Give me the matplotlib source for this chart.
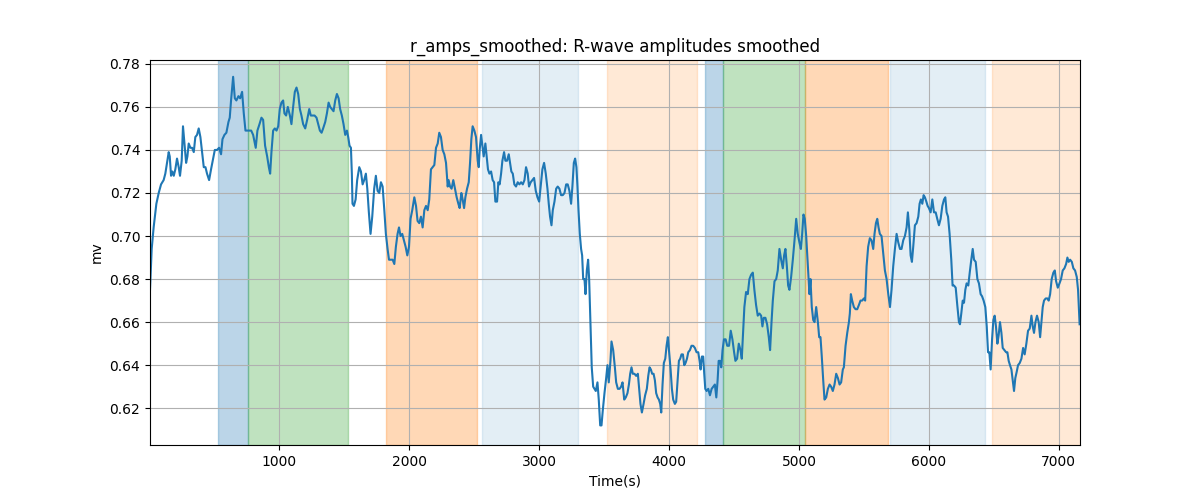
import matplotlib
matplotlib.use("Agg")
import matplotlib.pyplot as plt

time_s = [
    3, 16, 31, 52, 70, 88, 108, 121, 134, 147, 155, 165, 175, 186, 198, 211, 224, 234, 247, 257,
    268, 281, 291, 301, 314, 327, 340, 352, 365, 378, 391, 404, 417, 430, 442, 458, 473, 486, 502, 519,
    535, 550, 561, 576, 591, 607, 617, 627, 643, 656, 668, 684, 697, 712, 725, 738, 751, 764, 782, 797,
    807, 817, 830, 846, 861,
    874, 889, 905, 918, 928, 938, 951, 964, 977, 990, 1002, 1015, 1028, 1038, 1051, 1064, 1080, 1092,
    1105, 1118, 1131, 1144, 1157, 1169, 1182, 1198, 1213, 1229, 1241, 1254, 1270, 1285, 1298, 1311,
    1324, 1336, 1352, 1365, 1378, 1390, 1403, 1416, 1429, 1442, 1455, 1467, 1480, 1493, 1506, 1519,
    1529, 1539, 1550, 1557, 1562, 1573, 1586, 1598, 1614, 1627, 1640, 1652, 1665, 1676, 1688, 1701,
    1714, 1729, 1742, 1755,
    1768, 1781, 1794, 1807, 1819, 1832, 1843, 1858, 1871, 1884, 1896, 1909, 1920, 1932, 1945, 1958,
    1971, 1984, 1997, 2009, 2022, 2038, 2051, 2063, 2076, 2089, 2102, 2115, 2128, 2141, 2153, 2166,
    2179, 2192, 2205, 2218, 2230, 2243, 2256, 2269, 2282, 2295, 2302, 2313, 2325, 2338, 2351, 2364,
    2377, 2387, 2400, 2410, 2421, 2431, 2444, 2457, 2467, 2477, 2487, 2500, 2513, 2526, 2534, 2541,
    2552, 2562, 2572, 2585, 2595, 2605, 2616, 2629, 2641, 2652,
    2662, 2675, 2685, 2695, 2706, 2716, 2729, 2739, 2752, 2765, 2775, 2785, 2796, 2808, 2821, 2834,
    2847, 2860, 2873, 2886, 2898, 2911, 2921, 2934, 2947, 2960, 2973, 2986, 2999, 3011, 3024, 3037,
    3050, 3063, 3073, 3083, 3094, 3104, 3117, 3130, 3142, 3155, 3168, 3181, 3194, 3207, 3219, 3232,
    3245, 3255, 3266, 3276, 3286, 3294, 3302, 3312, 3322, 3330, 3338, 3348, 3356, 3366, 3376, 3384,
    3394, 3404, 3415, 3425, 3435, 3448, 3458, 3469, 3479, 3489, 3502, 3515, 3525, 3535, 3548,
    3556, 3569, 3582, 3592, 3605, 3618, 3630, 3641, 3654, 3666, 3679, 3690, 3700, 3710, 3720, 3733,
    3746, 3759, 3769, 3779, 3790, 3803, 3815, 3828, 3839, 3849, 3859, 3869, 3880, 3890, 3900, 3911,
    3921, 3931, 3939, 3949, 3959, 3970, 3980, 3990, 4000, 4011, 4021, 4031, 4044, 4054, 4065, 4075,
    4085, 4095, 4106, 4116, 4126, 4137, 4147, 4160, 4172, 4185, 4198, 4211, 4224, 4234, 4242, 4252,
    4262, 4270, 4278, 4288, 4301, 4314, 4327, 4339, 4352, 4363, 4373, 4381, 4391, 4401, 4411, 4422,
    4435, 4447,
    4451, 4461, 4474, 4487, 4500, 4510, 4523, 4536, 4549, 4559, 4569, 4579, 4592, 4605, 4618, 4631,
    4644, 4656, 4669, 4682, 4695, 4708, 4718, 4728, 4741, 4754, 4767, 4777, 4788, 4798, 4811, 4824,
    4836, 4849, 4862, 4875, 4885, 4895, 4906, 4916, 4926, 4939, 4952, 4965, 4978, 4990, 5003, 5014,
    5024, 5034, 5044, 5055, 5065, 5073, 5080, 5088, 5098, 5109, 5119, 5132, 5145, 5155, 5165, 5175,
    5186, 5196, 5209, 5222, 5235, 5247, 5260, 5273, 5286, 5299, 5312, 5324, 5337,
    5345, 5358, 5371, 5384, 5391, 5399, 5409, 5422, 5435, 5448, 5461, 5473, 5486, 5499, 5509, 5520,
    5532, 5545, 5558, 5571, 5581, 5592, 5602, 5612, 5622, 5635, 5648, 5661, 5674, 5687, 5700, 5712,
    5725, 5738, 5751, 5764, 5777, 5789, 5802, 5815, 5828, 5838, 5849, 5859, 5869, 5879, 5892, 5905,
    5918, 5928, 5938, 5949, 5959, 5969, 5980, 5990, 6000, 6013, 6026, 6039, 6052, 6064, 6077, 6090,
    6103, 6116, 6126, 6136, 6147, 6159, 6172, 6182, 6193, 6206, 6218, 6231,
    6239, 6249, 6260, 6270, 6280, 6290, 6303, 6314, 6326, 6337, 6347, 6360, 6373, 6385, 6398, 6409,
    6421, 6434, 6445, 6455, 6465, 6475, 6486, 6496, 6506, 6516, 6527, 6537, 6547, 6558, 6568, 6581,
    6594, 6604, 6614, 6624, 6635, 6645, 6655, 6665, 6676, 6686, 6699, 6712, 6725, 6737, 6750, 6763,
    6776, 6789, 6799, 6809, 6820, 6832, 6845, 6856, 6866, 6876, 6886, 6899, 6912, 6922, 6933, 6945,
    6958, 6969, 6979, 6992, 7005, 7017, 7030, 7043, 7056, 7066, 7076, 7087, 7100, 7112, 7125, 7138,
    7148, 7160,
]

r_amps = [
    0.675, 0.694, 0.704, 0.715, 0.720, 0.724, 0.726, 0.729, 0.734, 0.739, 0.737, 0.728, 0.730, 0.728,
    0.731, 0.736, 0.732, 0.728, 0.735, 0.751, 0.743, 0.734, 0.737, 0.743, 0.741, 0.741, 0.739, 0.746,
    0.747, 0.750, 0.746, 0.739, 0.732, 0.732, 0.729, 0.726, 0.731, 0.735, 0.740, 0.740, 0.741, 0.738,
    0.745, 0.747, 0.748, 0.753, 0.755, 0.763, 0.774, 0.764, 0.763, 0.765, 0.764, 0.767, 0.757, 0.749,
    0.749, 0.749, 0.749, 0.747, 0.744, 0.741, 0.749, 0.752, 0.755,
    0.754, 0.742, 0.737, 0.732, 0.729, 0.739, 0.749, 0.750, 0.749, 0.751, 0.759, 0.762, 0.763, 0.757,
    0.756, 0.760, 0.756, 0.752, 0.760, 0.767, 0.769, 0.766, 0.759, 0.756, 0.752, 0.750, 0.754, 0.759,
    0.756, 0.756, 0.756, 0.755, 0.752, 0.749, 0.748, 0.750, 0.753, 0.757, 0.762, 0.760, 0.759, 0.758,
    0.763, 0.766, 0.764, 0.759, 0.756, 0.752, 0.747, 0.749, 0.746, 0.742, 0.741, 0.729, 0.715, 0.714,
    0.717, 0.726, 0.732, 0.730, 0.724, 0.726, 0.729, 0.722, 0.711, 0.701, 0.709, 0.722, 0.728, 0.721,
    0.720, 0.725, 0.723, 0.712, 0.701, 0.694, 0.689, 0.689, 0.689, 0.687, 0.695, 0.701, 0.704, 0.700,
    0.701, 0.698, 0.695, 0.691, 0.695, 0.708, 0.712, 0.718, 0.714, 0.707, 0.706, 0.709, 0.704, 0.712,
    0.714, 0.712, 0.717, 0.731, 0.732, 0.733, 0.741, 0.743, 0.748, 0.746, 0.740, 0.738, 0.734, 0.723,
    0.726, 0.723, 0.722, 0.726, 0.722, 0.718, 0.715, 0.713, 0.720, 0.717, 0.713, 0.718, 0.722, 0.725,
    0.734, 0.745, 0.751, 0.749, 0.746, 0.735, 0.732, 0.740, 0.747, 0.742, 0.737, 0.743, 0.737, 0.731,
    0.729, 0.730, 0.726, 0.725,
    0.716, 0.716, 0.725, 0.724, 0.729, 0.735, 0.739, 0.735, 0.735, 0.738, 0.734, 0.730, 0.729, 0.724,
    0.723, 0.725, 0.724, 0.725, 0.724, 0.726, 0.732, 0.729, 0.723, 0.725, 0.726, 0.727, 0.721, 0.718,
    0.716, 0.723, 0.731, 0.734, 0.729, 0.722, 0.715, 0.709, 0.705, 0.712, 0.716, 0.722, 0.723, 0.722,
    0.719, 0.719, 0.720, 0.724, 0.724, 0.721, 0.715, 0.723, 0.734, 0.736, 0.732, 0.723, 0.712, 0.701,
    0.694, 0.691, 0.680, 0.680, 0.673, 0.684, 0.689, 0.680, 0.660, 0.639, 0.630, 0.629, 0.628, 0.632,
    0.624, 0.612, 0.612, 0.619, 0.627, 0.634, 0.640, 0.632, 0.642,
    0.651, 0.647, 0.639, 0.632, 0.629, 0.629, 0.630, 0.632, 0.624, 0.625, 0.627, 0.631, 0.636, 0.639,
    0.636, 0.636, 0.635, 0.636, 0.629, 0.622, 0.618, 0.622, 0.626, 0.629, 0.635, 0.639, 0.638, 0.636,
    0.636, 0.633, 0.627, 0.625, 0.624, 0.622, 0.618, 0.631, 0.641, 0.643, 0.649, 0.653, 0.646, 0.638,
    0.629, 0.624, 0.622, 0.623, 0.633, 0.642, 0.643, 0.645, 0.645, 0.640, 0.641, 0.643, 0.646, 0.647,
    0.649, 0.649, 0.648, 0.646, 0.646, 0.642, 0.638, 0.644, 0.644, 0.636, 0.629, 0.628, 0.629, 0.626,
    0.629, 0.630, 0.631, 0.625, 0.633, 0.642, 0.642, 0.639, 0.647, 0.652, 0.652, 0.649,
    0.649, 0.649, 0.656, 0.652, 0.646, 0.642, 0.643, 0.650, 0.647, 0.643, 0.655, 0.667, 0.674, 0.673,
    0.680, 0.682, 0.683, 0.675, 0.668, 0.663, 0.664, 0.663, 0.658, 0.662, 0.662, 0.659, 0.653, 0.647,
    0.660, 0.670, 0.679, 0.680, 0.684, 0.694, 0.689, 0.685, 0.691, 0.694, 0.686, 0.677, 0.675, 0.681,
    0.689, 0.698, 0.708, 0.701, 0.697, 0.694, 0.701, 0.710, 0.708, 0.700, 0.689, 0.680, 0.673, 0.680,
    0.667, 0.661, 0.660, 0.667, 0.660, 0.653, 0.653, 0.644, 0.633, 0.624, 0.625, 0.629, 0.631, 0.630,
    0.628, 0.631, 0.636, 0.634, 0.631, 0.632, 0.638,
    0.639, 0.649, 0.655, 0.660, 0.664, 0.673, 0.670, 0.667, 0.666, 0.666, 0.668, 0.670, 0.670, 0.671,
    0.670, 0.686, 0.695, 0.699, 0.698, 0.694, 0.701, 0.706, 0.708, 0.704, 0.701, 0.700, 0.692, 0.684,
    0.680, 0.673, 0.667, 0.675, 0.686, 0.694, 0.701, 0.697, 0.694, 0.694, 0.698, 0.700, 0.704, 0.711,
    0.703, 0.691, 0.688, 0.695, 0.705, 0.706, 0.709, 0.715, 0.717, 0.715, 0.719, 0.718, 0.716, 0.714,
    0.713, 0.711, 0.717, 0.711, 0.711, 0.708, 0.705, 0.708, 0.714, 0.717, 0.718, 0.711, 0.709, 0.701,
    0.689, 0.677, 0.677, 0.676, 0.668, 0.660,
    0.659, 0.664, 0.670, 0.669, 0.675, 0.678, 0.677, 0.683, 0.689, 0.694, 0.689, 0.688, 0.680, 0.678,
    0.673, 0.672, 0.670, 0.667, 0.658, 0.646, 0.646, 0.638, 0.652, 0.661, 0.663, 0.658, 0.650, 0.654,
    0.660, 0.655, 0.648, 0.647, 0.646, 0.646, 0.642, 0.640, 0.638, 0.633, 0.628, 0.634, 0.637, 0.640,
    0.641, 0.643, 0.648, 0.645, 0.650, 0.656, 0.657, 0.663, 0.658, 0.655, 0.660, 0.663, 0.660, 0.653,
    0.660, 0.667, 0.670, 0.671, 0.671, 0.670, 0.673, 0.680, 0.683, 0.684, 0.679, 0.676, 0.678, 0.680,
    0.684, 0.685, 0.687, 0.690, 0.688, 0.689, 0.688, 0.685, 0.684, 0.681, 0.675, 0.659,
]

# shaded segments: (start, end, colour, alpha)
span_starts = [527, 761, 1822, 2560, 3518, 4273, 4412, 5047, 5697, 6486]
span_ends = [761, 1527, 2524, 3300, 4212, 4412, 5047, 5684, 6432, 7200]
span_colors = ["C0", "C2", "C1", "C0", "C1", "C0", "C2", "C1", "C0", "C1"]
span_alphas = [0.3, 0.3, 0.3, 0.12, 0.17, 0.3, 0.3, 0.3, 0.12, 0.17]

fig, ax = plt.subplots(figsize=(12, 5), dpi=100)
for s, e, c, a in zip(span_starts, span_ends, span_colors, span_alphas):
    ax.axvspan(s, e, color=c, alpha=a)
ax.plot(time_s, r_amps, color="C0", linewidth=1.5)
ax.set_xlim(time_s[0], time_s[-1] + 3)
ax.set_ylim(0.6029, 0.7818)
ax.grid(True)
ax.set_title("r_amps_smoothed: R-wave amplitudes smoothed")
ax.set_xlabel("Time(s)")
ax.set_ylabel("mv")
fig.savefig("out.png", dpi=100)
